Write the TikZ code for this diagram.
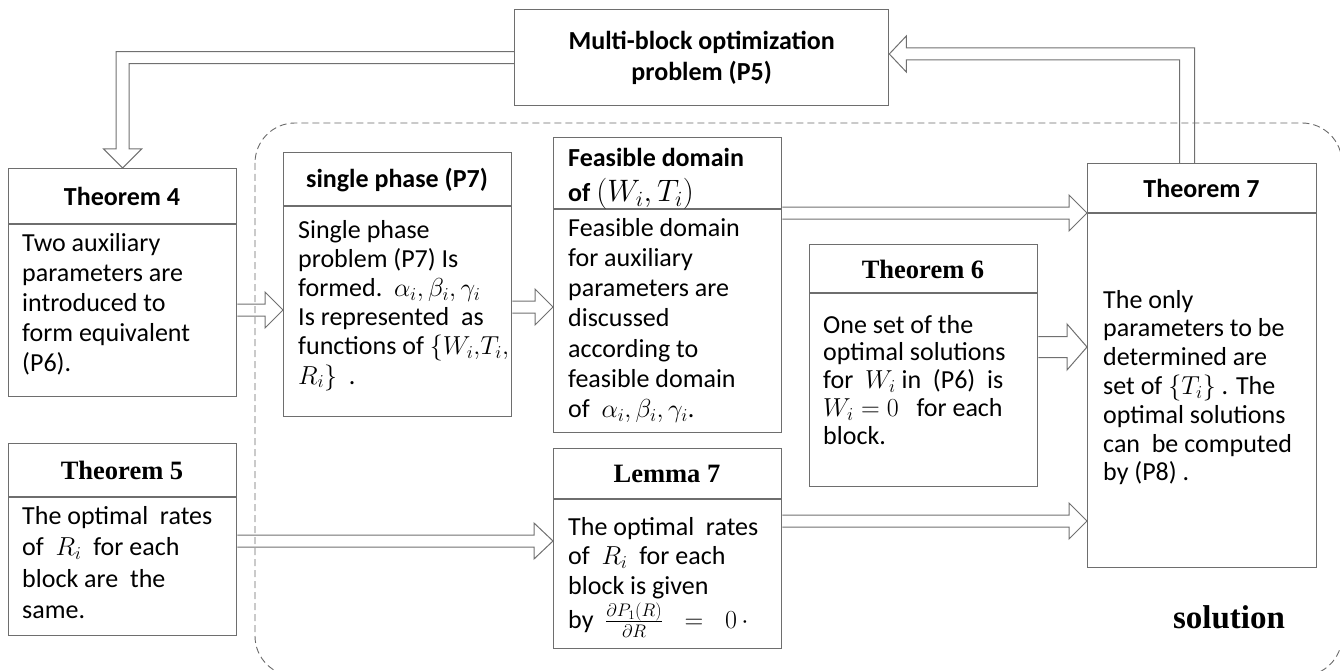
\RequirePackage{fix-cm}
\documentclass[tikz,border=0pt]{standalone}
\usepackage{fontspec}
\setmainfont{Carlito}
\newfontfamily\timesfont{Liberation Serif}
\usetikzlibrary{calc}

\definecolor{boxgray}{HTML}{6E6E6E}
\definecolor{arrowgray}{HTML}{707070}
\definecolor{dashgray}{HTML}{6A6A6A}

% body text: top-aligned paragraph with a fixed line pitch
\newcommand\bodylines[3]{\parbox[t]{#1}{\setlength\baselineskip{#2}\lineskiplimit=-100pt\raggedright #3}}

% hollow block arrow pointing right: from, to, shaft half width, head half width, head length
\newcommand\rarrow[5]{%
  \draw[blockarrow] let \p1=(#1), \p2=(#2) in
    (\x1,\y1+#3) -- (\x2-#5,\y1+#3) -- (\x2-#5,\y1+#4) -- (\x2,\y1)
    -- (\x2-#5,\y1-#4) -- (\x2-#5,\y1-#3) -- (\x1,\y1-#3);}

\tikzset{
  box/.style={draw=boxgray, line width=1.3pt, inner sep=0pt, anchor=north west},
  divider/.style={draw=boxgray, line width=1.3pt},
  blockarrow/.style={draw=arrowgray, line width=1pt, line join=miter},
  dashregion/.style={draw=dashgray, line width=0.9pt, dash pattern=on 7pt off 4pt, rounded corners=40pt},
  ttl/.style={font=\fontsize{26}{31}\selectfont\bfseries, inner sep=0pt, align=center},
  ttlserif/.style={font=\fontsize{26.5}{31}\selectfont\timesfont\bfseries, inner sep=0pt},
  body/.style={inner sep=0pt, anchor=base west, font=\fontsize{26}{30}\selectfont},
}

\begin{document}
\begin{tikzpicture}[x=1pt, y=-1pt]
\useasboundingbox (0,0) rectangle (1340,671);
\clip (0,0) rectangle (1340,671);

% dashed frame around the solution stage
\draw[dashregion] (255,123) rectangle (1342,676);

% boxes
\node[box, minimum width=374pt, minimum height=96pt]  (mb) at (514,9)   {};
\node[box, minimum width=228pt, minimum height=228pt] (t4) at (8,168)   {};
\node[box, minimum width=228pt, minimum height=192pt] (t5) at (8,443)   {};
\node[box, minimum width=228pt, minimum height=264pt] (sp) at (283,152) {};
\node[box, minimum width=228pt, minimum height=295pt] (fd) at (553,137) {};
\node[box, minimum width=228pt, minimum height=200pt] (l7) at (553,448) {};
\node[box, minimum width=228pt, minimum height=242pt] (t6) at (809,244) {};
\node[box, minimum width=229pt, minimum height=404pt] (t7) at (1087,163) {};

% header dividers
\draw[divider] (t4.west |- 0,224) -- (t4.east |- 0,224);
\draw[divider] (t5.west |- 0,497) -- (t5.east |- 0,497);
\draw[divider] (sp.west |- 0,206) -- (sp.east |- 0,206);
\draw[divider] (fd.west |- 0,209) -- (fd.east |- 0,209);
\draw[divider] (l7.west |- 0,499) -- (l7.east |- 0,499);
\draw[divider] (t6.west |- 0,293) -- (t6.east |- 0,293);
\draw[divider] (t7.west |- 0,213) -- (t7.east |- 0,213);

% titles
\node[ttl] (mbt) at (mb.center) {Multi-block optimization\\problem (P5)};
\node[ttl] (t4t) at (122,196) {Theorem 4};
\node[ttlserif] (t5t) at (122,470) {Theorem 5};
\node[ttl] (spt) at (397,180) {single phase (P7)};
\node[body, font=\fontsize{26}{30}\selectfont\bfseries] (fdt) at (568,167)
  {\bodylines{260pt}{35pt}{Feasible domain\\of \fontsize{31}{35}\selectfont$(W_i,T_i)$}};
\node[ttlserif] (l7t) at (667,474) {Lemma 7};
\node[ttlserif] (t6t) at (923,269) {Theorem 6};
\node[ttl] (t7t) at (1201.5,188) {Theorem 7};

% body texts
\node[body] (t4b) at (22,251) {\bodylines{260pt}{30pt}{Two auxiliary\\parameters are\\introduced to\\form equivalent\\(P6).}};
\node[body] (t5b) at (22,524) {\bodylines{260pt}{31.5pt}{The optimal\ \ rates\\of\ \ $R_i$\ \ for each\\block are\ \ the\\same.}};
\node[body] (spb) at (298,238) {\bodylines{260pt}{29.2pt}{Single phase\\problem (P7) Is\\formed.\ \ $\alpha_i,\beta_i,\gamma_i$\\Is represented\ \ as\\functions of $\{W_i{,}T_i{,}$\\$R_i\}$\ \ .}};
\node[body] (fdb) at (568,236) {\bodylines{260pt}{30.3pt}{Feasible domain\\for auxiliary\\parameters are\\discussed\\according to\\feasible domain\\of\ \ $\alpha_i,\beta_i,\gamma_i$.}};
\node[body] (t6b) at (823,333) {\bodylines{260pt}{27.8pt}{One set of the\\optimal solutions\\for\ \ $W_i$ in\ \ (P6)\ \ is\\$W_i=0$\ \ \ for each\\block.}};
\node[body] (t7b) at (1103,308) {\bodylines{260pt}{28.8pt}{The only\\parameters to be\\determined are\\set of $\{T_i\}$ . The\\optimal solutions\\can\ \ be computed\\by (P8) .}};
\node[body] (l7b) at (568,535) {\bodylines{260pt}{29.7pt}{The optimal\ \ rates\\of\ \ $R_i$\ \ for each\\block is given\\[4pt]by\ \ $\frac{\partial P_1(R)}{\partial R}\;\;=\;\;0\,\cdot$}};

\node[font=\fontsize{33}{40}\selectfont\timesfont\bfseries, inner sep=0pt] (sol) at (1229,617) {solution};

% straight block arrows
\rarrow{t4.east |- 0,310}{sp.west}{6pt}{18pt}{18pt}
\rarrow{sp.east |- 0,307}{fd.west}{6pt}{18pt}{18pt}
\rarrow{fd.east |- 0,213}{t7.west}{6pt}{18pt}{18pt}
\rarrow{t6.east |- 0,347}{t7.west}{10.5pt}{23pt}{20pt}
\rarrow{t5.east |- 0,541}{l7.west}{6pt}{18pt}{19pt}
\rarrow{l7.east |- 0,521}{t7.west}{6pt}{18pt}{18pt}

% bent block arrow: multi-block problem down to Theorem 4
\draw[blockarrow] let \p1=(mb.west), \p2=(t4.north) in
  (\x1,\y1+6pt) -- (\x2-6.5pt,\y1+6pt) -- (\x2-6.5pt,\y2+19pt) -- (\x2-19pt,\y2+19pt)
  -- (\x2,\y2) -- (\x2+19pt,\y2+19pt) -- (\x2+6.5pt,\y2+19pt) -- (\x2+6.5pt,\y1-6pt) -- (\x1,\y1-6pt);

% bent block arrow: Theorem 7 back up to the multi-block problem
\draw[blockarrow] let \p1=(mb.east |- 0,54), \p2=(t7.north -| 1187,0) in
  (\x2-7.5pt,\y2) -- (\x2-7.5pt,\y1-6pt) -- (\x1+17pt,\y1-6pt) -- (\x1+17pt,\y1-18pt)
  -- (\x1,\y1) -- (\x1+17pt,\y1+18pt) -- (\x1+17pt,\y1+6pt) -- (\x2+7.5pt,\y1+6pt) -- (\x2+7.5pt,\y2);
\end{tikzpicture}
\end{document}
